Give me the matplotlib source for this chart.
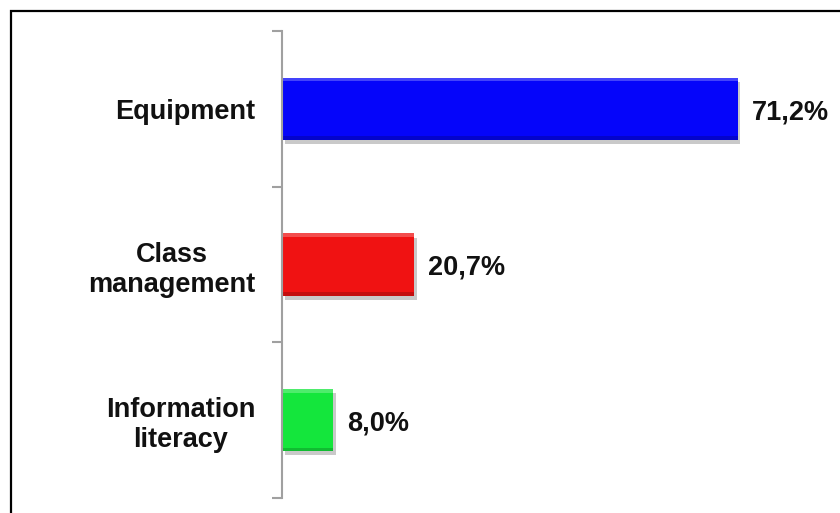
import matplotlib.pyplot as plt
import matplotlib.patheffects as pe
from matplotlib.patches import Rectangle

categories = ['Equipment', 'Class\nmanagement', 'Information\nliteracy']
values = [71.2, 20.7, 8.0]
labels = ['71,2%', '20,7%', '8,0%']
colors = ['#0505fa', '#f01212', '#14e63c']

plt.rcParams['font.family'] = ['Liberation Sans', 'DejaVu Sans']

fig = plt.figure(figsize=(8.4, 5.13), dpi=100)
ax = fig.add_axes([282 / 840, 15 / 513, 558 / 840, 467 / 513])

# top category first
pos = [2, 1, 0]
shadow = [pe.SimplePatchShadow(offset=(2, -3), shadow_rgbFace='#888888', alpha=0.45), pe.Normal()]
bars = ax.barh(pos, values, height=0.4, color=colors, edgecolor='none', path_effects=shadow)

# darker bottom edge and lighter top edge on each bar
for b, c in zip(bars, colors):
    x0, y0, w, h = b.get_x(), b.get_y(), b.get_width(), b.get_height()
    ax.add_patch(Rectangle((x0, y0), w, h * 0.06, color='black', alpha=0.18, lw=0))
    ax.add_patch(Rectangle((x0, y0 + h * 0.94), w, h * 0.06, color='white', alpha=0.25, lw=0))

for p, v, t in zip(pos, values, labels):
    ax.annotate(t, (v, p), xytext=(10, -2.5), textcoords='offset points',
                va='center', ha='left', fontsize=19.5, fontweight='bold', color='#111111')

ax.set_xlim(0, 87.2)
ax.set_ylim(-0.5, 2.5)
ax.set_yticks(pos)
ax.set_yticklabels(categories, fontsize=19.5, fontweight='bold', color='#111111',
                   multialignment='center', linespacing=1.2)
ax.tick_params(axis='y', which='major', length=0, pad=19)
ax.set_yticks([-0.5, 0.5, 1.5, 2.5], minor=True)
ax.tick_params(axis='y', which='minor', length=7, width=1.5, color='#a0a0a0')
ax.set_xticks([])

for s in ['top', 'right', 'bottom']:
    ax.spines[s].set_visible(False)
ax.spines['left'].set_color('#a0a0a0')
ax.spines['left'].set_linewidth(1.5)

# outer frame, open at right and bottom edges
fig.patches.append(Rectangle((10.5 / 840, -0.05), 1.1, 1 - 10.5 / 513 + 0.05,
                             transform=fig.transFigure, fill=False,
                             edgecolor='black', lw=1.6))

fig.savefig('out.png', dpi=100)
